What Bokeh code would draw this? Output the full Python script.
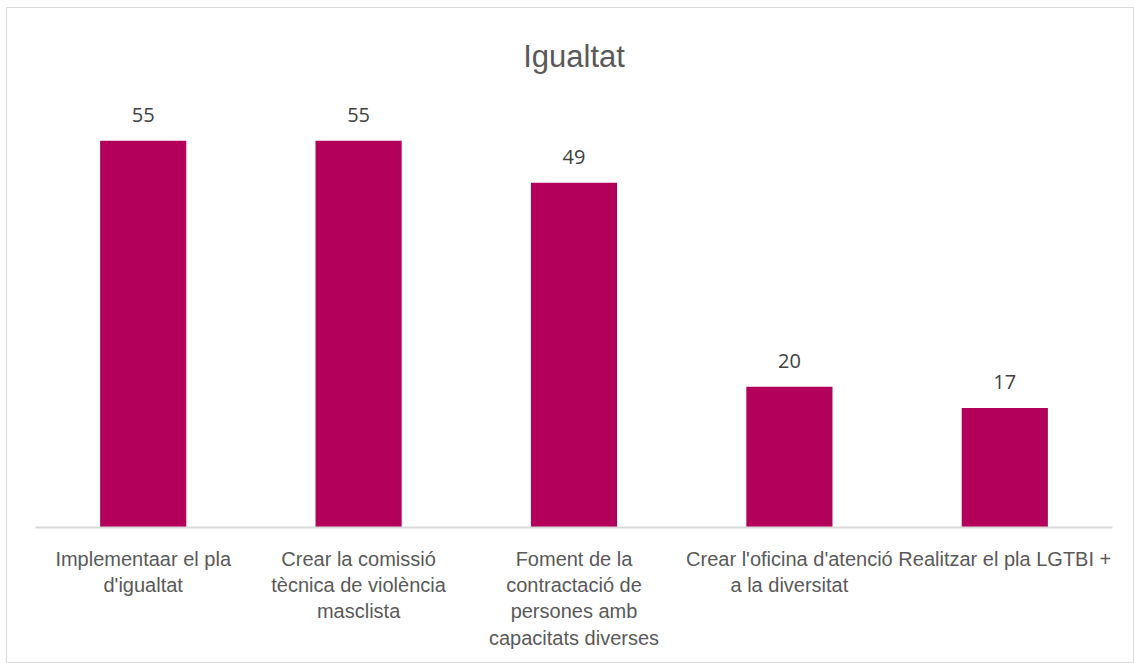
from bokeh.plotting import figure
from bokeh.models import ColumnDataSource, LabelSet, Range1d, Title
from bokeh.core.properties import value
from bokeh.embed import file_html
from bokeh.resources import INLINE

categories = [
    "Implementaar el pla\nd'igualtat",
    "Crear la comissió\ntècnica de violència\nmasclista",
    "Foment de la\ncontractació de\npersones amb\ncapacitats diverses",
    "Crear l'oficina d'atenció\na la diversitat",
    "Realitzar el pla LGTBI +",
]
values = [55, 55, 49, 20, 17]
title_text = "Igualtat"

BAR = "#B3005B"
LABEL_FONT = "Liberation Sans"

p = figure(x_range=categories, y_range=Range1d(0, 60), width=1128, height=656,
           output_backend="svg", toolbar_location=None, title=title_text,
           min_border_left=28, min_border_right=23, min_border_top=97, min_border_bottom=137)
p.styles = {"border": "1px solid #D9D9D9", "margin-left": "6px", "margin-top": "7px"}

src = ColumnDataSource(dict(cat=categories, val=values, txt=[str(v) for v in values]))
p.vbar(x="cat", top="val", width=0.4, source=src, fill_color=BAR, line_color=None)

p.add_layout(LabelSet(x="cat", y="val", text="txt", source=src, y_offset=26,
                      text_align="center", text_baseline="middle",
                      text_font=value("Open Sans"), text_font_size="20px", text_color="#404040"))

p.title.align = "center"
p.title.text_font = LABEL_FONT
p.title.text_font_size = "31px"
p.title.text_font_style = "normal"
p.title.text_color = "#595959"
p.title.vertical_align = "top"
p.title.standoff = 60

p.yaxis.visible = False
p.xgrid.visible = False
p.ygrid.visible = False
p.outline_line_color = None
p.xaxis.axis_line_color = "#D9D9D9"
p.xaxis.axis_line_width = 2
p.xaxis.major_tick_line_color = None
p.xaxis.minor_tick_line_color = None
p.xaxis.major_label_text_font = LABEL_FONT
p.xaxis.major_label_text_font_size = "20px"
p.xaxis.major_label_text_color = "#595959"
p.xaxis.major_label_standoff = 14
p.x_range.range_padding = 0

open("out.html", "w").write(file_html(p, INLINE))
